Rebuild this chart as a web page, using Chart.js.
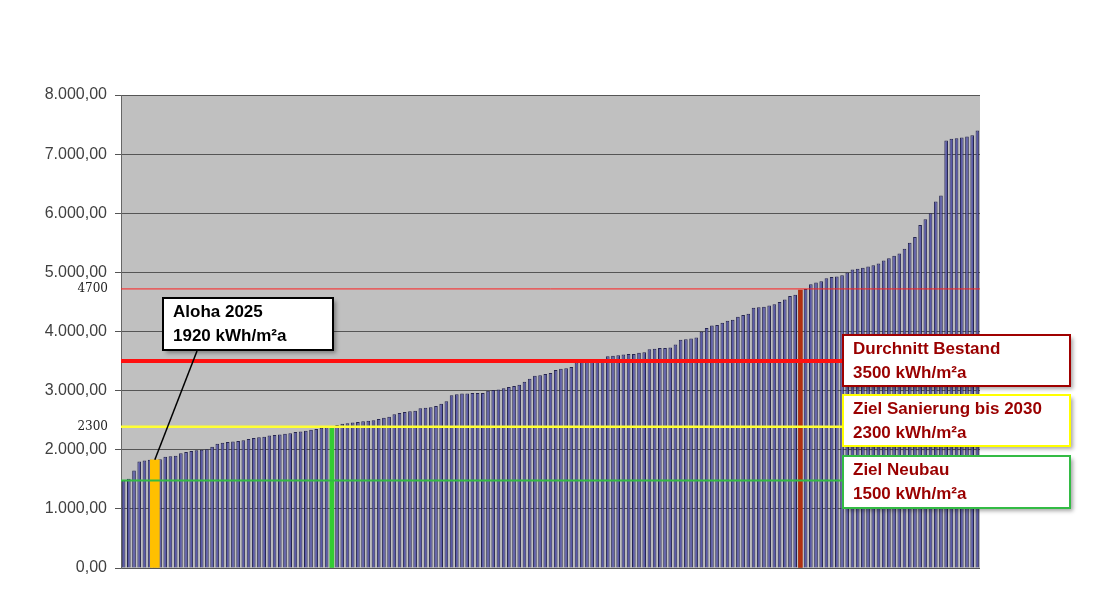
<!DOCTYPE html>
<html><head><meta charset="utf-8">
<script src="https://cdn.jsdelivr.net/npm/chart.js@4"></script>
<style>html,body{margin:0;padding:0;background:#fff}#w{width:1096px;height:616px}</style>
</head><body><div id="w"><canvas id="c"></canvas></div>
<script>
const values = [1480,1510,1650,1800,1820,1830,1830,1840,1880,1890,
1900,1940,1960,1980,1990,2000,2010,2050,2100,2120,
2130,2140,2150,2160,2180,2200,2210,2220,2240,2250,
2260,2270,2280,2300,2310,2320,2340,2350,2370,2380,
2390,2420,2440,2450,2460,2470,2480,2490,2500,2520,
2540,2560,2600,2620,2640,2650,2660,2700,2710,2720,
2740,2780,2820,2920,2940,2950,2950,2960,2960,2960,
3000,3010,3020,3040,3060,3080,3100,3150,3200,3250,
3260,3280,3300,3350,3370,3380,3400,3480,3500,3500,
3500,3510,3520,3580,3590,3600,3610,3620,3620,3640,
3650,3700,3710,3720,3720,3730,3780,3860,3870,3880,
3900,4000,4060,4100,4110,4150,4180,4200,4250,4280,
4300,4400,4410,4420,4440,4460,4500,4540,4600,4620,
4700,4720,4800,4830,4850,4900,4920,4930,4950,5000,
5050,5060,5080,5100,5120,5150,5200,5240,5280,5320,
5400,5500,5600,5800,5900,6000,6200,6300,7230,7260,
7270,7280,7300,7320,7400];
const categories = values.map((v,i)=>String(i+1));
const highlights = [{idx:6,color:'#ffc000',border:'#e0a000',w:9},{idx:40,color:'#33cc33',border:'#33cc33',w:4},{idx:130,color:'#b03010',border:'#b03010',w:4}];
const refLines = [{v:1480,color:'#33bb44',w:2},{v:2390,color:'#ffff33',w:2.5},{v:3500,color:'#ff1010',w:4},{v:4720,color:'#ff2020',w:1}];
const sideLabels = [{v:4720,t:'4700'},{v:2390,t:'2300'}];
const boxes = [
 {x:163,y:298,w:170,h:52,border:'#000',color:'#000',lines:['Aloha 2025','1920 kWh/m²a']},
 {x:843,y:335,w:227,h:51,border:'#a00000',color:'#9a0000',lines:['Durchnitt Bestand','3500 kWh/m²a']},
 {x:843,y:395,w:227,h:51,border:'#ffff00',color:'#9a0000',lines:['Ziel Sanierung bis 2030','2300 kWh/m²a']},
 {x:843,y:456,w:227,h:52,border:'#33bb44',color:'#9a0000',lines:['Ziel Neubau','1500 kWh/m²a']}
];
const datasets=[{data:values,backgroundColor:'#5a5aa8',borderColor:'#262650',borderWidth:1,barPercentage:0.7,categoryPercentage:1,order:2}];
highlights.forEach(h=>{datasets.push({data:values.map((v,i)=>i===h.idx?v:null),backgroundColor:h.color,borderColor:h.border,borderWidth:0,barThickness:h.w,grouped:false,order:1});});
const plug={id:'p',
 beforeDraw(c){const a=c.chartArea,x=c.ctx;x.save();x.fillStyle='#c0c0c0';x.fillRect(a.left,a.top,a.right-a.left,a.bottom-a.top);x.restore();},
 afterDatasetsDraw(c){const a=c.chartArea,x=c.ctx,ys=c.scales.y;x.save();
  refLines.forEach(l=>{const y=ys.getPixelForValue(l.v);x.strokeStyle=l.color;x.lineWidth=l.w;x.beginPath();x.moveTo(a.left,y);x.lineTo(a.right,y);x.stroke();});
  x.fillStyle='#222';x.font='12px "DejaVu Serif", serif';x.textAlign='right';x.textBaseline='middle';
  sideLabels.forEach(s=>{x.fillText(s.t,108,ys.getPixelForValue(s.v));});
  const xs=c.scales.x;const ox=xs.getPixelForValue(highlights[0].idx),oy=ys.getPixelForValue(values[highlights[0].idx]);
  x.strokeStyle='#000';x.lineWidth=1.5;x.beginPath();x.moveTo(197,351);x.lineTo(ox,oy);x.stroke();
  boxes.forEach(b=>{x.shadowColor='rgba(0,0,0,0.35)';x.shadowOffsetX=3;x.shadowOffsetY=3;x.shadowBlur=4;x.fillStyle='#fff';x.fillRect(b.x,b.y,b.w,b.h);
   x.shadowColor='transparent';x.strokeStyle=b.border;x.lineWidth=2;x.strokeRect(b.x,b.y,b.w,b.h);
   x.fillStyle=b.color;x.font='bold 17px "Liberation Sans", Arial, sans-serif';x.textAlign='left';x.textBaseline='middle';
   b.lines.forEach((t,i)=>x.fillText(t,b.x+10,b.y+14+i*24));});
  x.restore();}
};
new Chart(document.getElementById('c'),{type:'bar',data:{labels:categories,datasets},
 options:{responsive:true,maintainAspectRatio:false,animation:false,
  layout:{padding:{top:95,right:116,bottom:48,left:0}},
  plugins:{legend:{display:false},tooltip:{enabled:false}},
  scales:{
   x:{display:false,offset:true},
   y:{min:0,max:8000,afterFit(s){s.width=121;},
    ticks:{stepSize:1000,color:'#404040',font:{size:16,family:'"Liberation Sans", Arial, sans-serif'},padding:8,
     callback:v=>v.toLocaleString('de-DE',{minimumFractionDigits:2,maximumFractionDigits:2})},
    grid:{color:'#555',lineWidth:1,drawTicks:true,tickLength:6},border:{color:'#666'}}
  }},plugins:[plug]});
</script></body></html>
